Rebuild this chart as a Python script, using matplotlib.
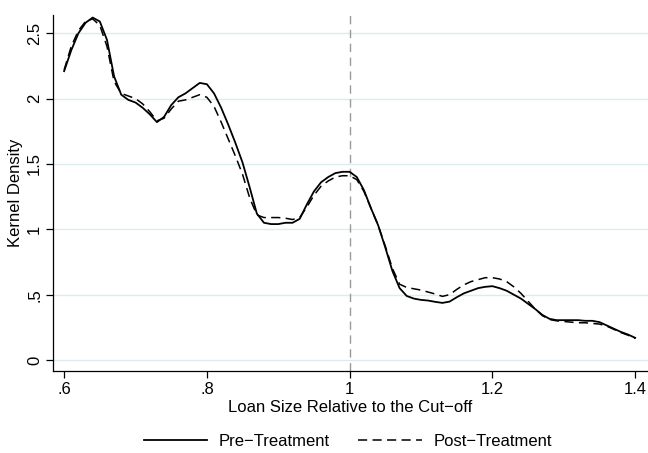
import numpy as np
import matplotlib
matplotlib.use('Agg')
import matplotlib.pyplot as plt

plt.rcParams['font.family'] = ['Liberation Sans', 'DejaVu Sans']

# ===== Data =====
loan_size = np.round(np.arange(0.60, 1.4001, 0.01), 2)

pre_treatment = [
    2.21, 2.37, 2.50, 2.58, 2.62, 2.59, 2.45, 2.17, 2.03, 1.99,
    1.97, 1.93, 1.88, 1.82, 1.86, 1.95, 2.01, 2.04, 2.08, 2.12,
    2.11, 2.04, 1.93, 1.80, 1.66, 1.51, 1.32, 1.12, 1.05, 1.04,
    1.04, 1.05, 1.05, 1.08, 1.19, 1.29, 1.36, 1.40, 1.43, 1.44,
    1.44, 1.40, 1.30, 1.16, 1.03, 0.86, 0.68, 0.55, 0.49, 0.47,
    0.46, 0.455, 0.445, 0.437, 0.447, 0.48, 0.51, 0.53, 0.55, 0.56,
    0.565, 0.55, 0.53, 0.50, 0.47, 0.43, 0.39, 0.345, 0.315, 0.305,
    0.305, 0.305, 0.305, 0.30, 0.30, 0.29, 0.265, 0.24, 0.215, 0.195,
    0.17,
]

post_treatment = [
    2.22, 2.40, 2.52, 2.59, 2.61, 2.56, 2.40, 2.13, 2.04, 2.02,
    2.00, 1.96, 1.90, 1.83, 1.85, 1.92, 1.98, 1.99, 2.01, 2.03,
    2.01, 1.94, 1.82, 1.69, 1.56, 1.42, 1.24, 1.11, 1.09, 1.09,
    1.09, 1.085, 1.075, 1.09, 1.17, 1.26, 1.33, 1.37, 1.40, 1.41,
    1.41, 1.38, 1.29, 1.16, 1.03, 0.87, 0.70, 0.58, 0.555, 0.545,
    0.535, 0.52, 0.505, 0.487, 0.50, 0.54, 0.575, 0.60, 0.615, 0.63,
    0.63, 0.62, 0.60, 0.56, 0.51, 0.45, 0.39, 0.34, 0.31, 0.30,
    0.295, 0.29, 0.285, 0.285, 0.28, 0.275, 0.26, 0.235, 0.21, 0.19,
    0.165,
]

cutoff = 1.0
x_ticks = [0.6, 0.8, 1.0, 1.2, 1.4]
x_ticklabels = ['.6', '.8', '1', '1.2', '1.4']
y_ticks = [0, 0.5, 1, 1.5, 2, 2.5]
y_ticklabels = ['0', '.5', '1', '1.5', '2', '2.5']

# ===== Plot =====
fig = plt.figure(figsize=(6.48, 4.53), dpi=100)
ax = fig.add_axes([0.082, 0.181, 0.918, 0.786])

ax.axvline(cutoff, color='#9a9a9a', linewidth=1.0, dashes=(6, 4), zorder=1)
ax.plot(loan_size, pre_treatment, color='black', linewidth=1.3,
        label='Pre\u2212Treatment', zorder=3)
ax.plot(loan_size, post_treatment, color='black', linewidth=1.1,
        dashes=(6, 3.5), label='Post\u2212Treatment', zorder=3)

ax.set_xlim(0.5846, 1.418)
ax.set_ylim(-0.084, 2.64)

ax.set_xticks(x_ticks)
ax.set_xticklabels(x_ticklabels)
ax.set_yticks(y_ticks)
ax.set_yticklabels(y_ticklabels, rotation=90, va='center')
ax.tick_params(axis='both', direction='out', length=5, width=0.9,
               labelsize=12, colors='black', pad=3)

ax.grid(axis='y', color='#dcebef', linewidth=1.0)
ax.set_axisbelow(True)

for side in ['top', 'right']:
    ax.spines[side].set_visible(False)
for side in ['left', 'bottom']:
    ax.spines[side].set_linewidth(0.9)

ax.set_xlabel('Loan Size Relative to the Cut\u2212off', fontsize=12, labelpad=2)
ax.set_ylabel('Kernel Density', fontsize=12, labelpad=3)

fig.legend(loc='lower center', bbox_to_anchor=(0.537, -0.024), ncol=2,
           frameon=False, fontsize=12, handlelength=3.8,
           columnspacing=1.7, handletextpad=0.7)

plt.savefig('out.png', dpi=100)
